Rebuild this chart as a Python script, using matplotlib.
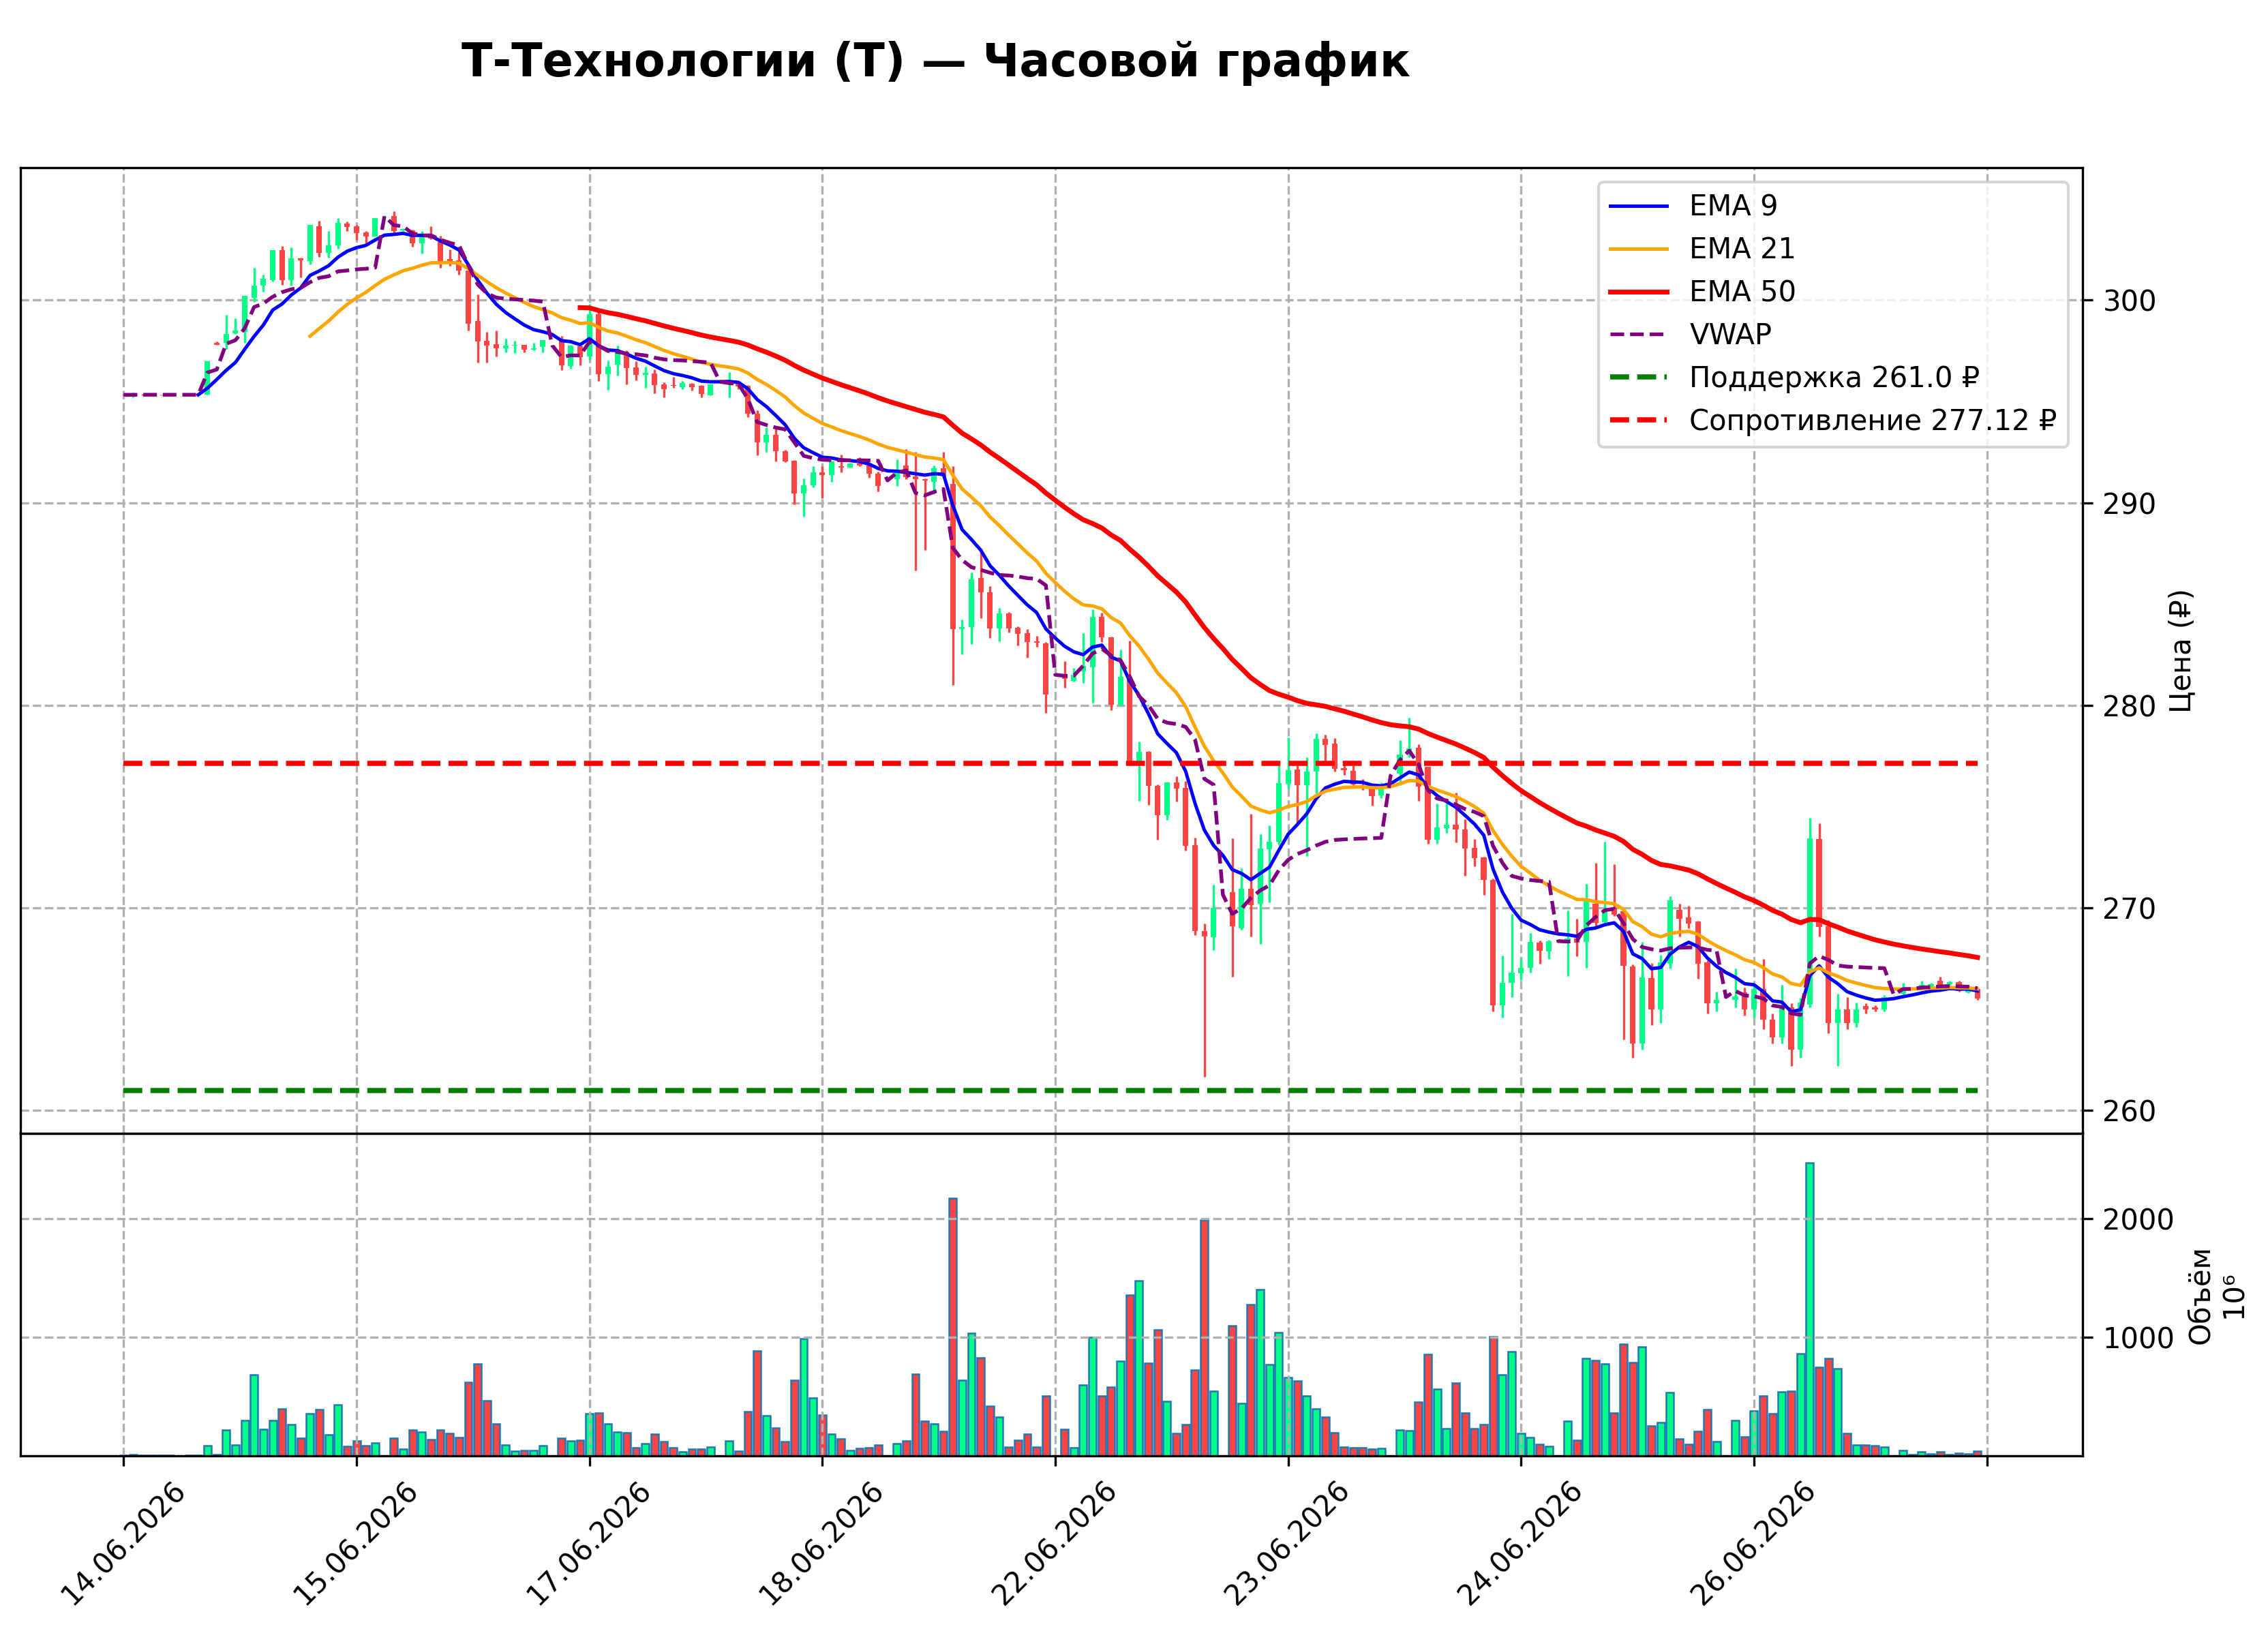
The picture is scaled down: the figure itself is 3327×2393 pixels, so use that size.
import numpy as np
import matplotlib
matplotlib.use("Agg")
import matplotlib.pyplot as plt

# ---------------- data ----------------
dates = ["14.06.2026", "15.06.2026", "17.06.2026", "18.06.2026",
         "22.06.2026", "23.06.2026", "24.06.2026", "26.06.2026"]

opens = [295.34, 295.32, 295.34, 295.33, 295.34, 295.32, 295.33, 295.34, 295.32,
         295.33, 297.90, 297.88, 298.35, 298.44, 300.12, 300.73, 301.00, 302.46, 301.00,
         302.05, 301.94, 303.63, 302.35, 302.72, 303.77, 303.66, 303.34, 303.15,
         304.14, 304.14, 303.43, 303.46, 302.81, 303.20, 302.87, 302.03, 301.97, 301.47,
         298.97, 297.99, 297.81, 297.61, 297.75, 297.80, 297.55, 297.68,
         297.76, 298.00, 296.76, 297.72, 297.23, 299.30, 296.33, 296.82, 297.40, 296.67,
         296.31, 296.39, 295.83, 295.80, 295.69, 295.89, 295.77, 295.30,
         295.97, 295.98, 295.97, 295.77, 294.38, 292.97, 293.34, 292.56, 292.07, 290.46,
         290.85, 291.51, 291.35, 291.80, 291.74, 291.94, 291.83, 291.44,
         291.10, 291.15, 291.83, 291.29, 291.18, 291.04, 291.71, 290.92, 283.75, 283.85,
         286.28, 285.57, 283.81, 284.54, 283.83, 283.55, 283.15, 283.04,
         281.50, 281.46, 281.20, 281.67, 281.89, 284.38, 283.35, 280.02, 281.42, 277.17,
         277.70, 276.01, 274.59, 276.20, 275.94, 273.09, 268.86, 268.54,
         270.65, 270.79, 269.01, 270.94, 270.21, 272.88, 273.26, 276.12, 276.84, 276.06,
         276.72, 278.34, 278.10, 276.90, 276.78, 276.18, 275.90, 275.54,
         276.52, 276.62, 277.58, 277.92, 276.98, 273.38, 273.93, 274.10, 273.86, 272.97,
         272.48, 271.37, 265.20, 266.29, 266.77, 267.04, 268.27, 267.86,
         268.36, 268.40, 268.50, 268.31, 270.21, 269.28, 269.99, 269.82, 267.10, 263.30,
         266.54, 265.00, 267.26, 269.91, 269.54, 269.32, 267.32, 265.30,
         265.60, 265.45, 265.84, 265.00, 266.00, 264.50, 263.60, 265.10, 263.00, 265.24,
         273.39, 269.09, 264.30, 265.00, 264.30, 265.16, 265.10, 265.00,
         265.72, 265.75, 266.00, 266.05, 266.10, 266.40, 266.23, 266.34, 265.84, 266.00]

highs = [295.36, 295.45, 295.36, 295.35, 295.35, 295.34, 295.34, 295.35, 295.34,
         296.98, 297.95, 299.28, 299.11, 300.20, 301.58, 301.27, 302.46, 302.68, 302.59,
         302.09, 303.70, 303.91, 303.40, 304.04, 303.87, 303.73, 303.40, 304.04,
         304.17, 304.38, 303.55, 303.48, 303.40, 303.65, 303.17, 302.50, 302.36, 301.50,
         300.29, 298.42, 298.49, 298.08, 297.99, 297.80, 297.88, 298.02,
         297.79, 298.24, 297.75, 297.75, 299.81, 299.62, 297.02, 297.75, 297.54, 296.98,
         296.73, 296.59, 295.94, 296.20, 296.00, 295.92, 295.80, 295.84,
         296.00, 296.46, 295.97, 295.80, 294.57, 293.73, 293.68, 292.60, 292.10, 291.21,
         291.80, 291.79, 292.05, 292.39, 291.96, 292.24, 291.86, 291.55,
         291.12, 292.14, 292.64, 292.52, 291.20, 291.83, 292.50, 291.79, 284.25, 286.54,
         287.57, 285.89, 284.80, 284.60, 283.90, 283.75, 283.41, 283.11,
         281.53, 282.17, 281.85, 283.56, 284.74, 284.57, 283.39, 282.75, 283.18, 278.20,
         277.75, 276.10, 276.22, 276.48, 276.27, 273.48, 269.23, 271.16,
         270.67, 273.43, 271.97, 274.66, 273.63, 274.06, 277.02, 278.40, 277.02, 277.44,
         278.61, 278.56, 278.38, 277.26, 277.02, 276.36, 276.12, 276.18,
         276.55, 278.28, 279.40, 278.07, 276.98, 275.16, 275.16, 275.70, 274.38, 273.41,
         272.54, 271.45, 267.64, 269.71, 267.52, 268.76, 268.39, 268.42,
         268.38, 269.88, 269.48, 271.19, 272.23, 273.26, 272.17, 269.88, 267.20, 268.33,
         267.28, 267.69, 270.58, 270.21, 270.10, 269.35, 267.40, 265.87,
         265.62, 267.00, 266.06, 266.20, 267.49, 264.80, 266.20, 265.30, 265.56, 274.46,
         274.18, 269.39, 265.76, 265.61, 265.33, 265.30, 265.20, 265.70,
         265.74, 266.30, 266.10, 266.40, 266.30, 266.59, 266.40, 266.40, 266.05, 266.05]

lows = [295.30, 295.20, 295.31, 295.31, 295.31, 295.31, 295.32, 295.31, 295.31,
        295.33, 297.80, 297.58, 298.33, 297.90, 299.90, 300.43, 300.93, 300.77, 300.72,
        301.13, 301.77, 302.12, 302.11, 302.53, 303.41, 302.97, 302.81, 303.13,
        304.12, 303.32, 303.40, 302.65, 302.31, 303.00, 301.60, 301.69, 301.27, 298.50,
        296.93, 296.93, 297.23, 297.43, 297.38, 297.43, 297.54, 297.43,
        297.74, 296.54, 296.63, 296.80, 297.04, 296.00, 295.58, 296.29, 295.83, 296.05,
        295.66, 295.41, 295.21, 295.66, 295.62, 295.53, 295.21, 295.30,
        295.95, 295.19, 295.62, 294.24, 292.33, 292.52, 292.05, 292.00, 289.92, 289.33,
        290.76, 290.21, 291.04, 291.51, 291.72, 291.80, 291.22, 290.56,
        291.08, 290.84, 291.15, 286.65, 287.67, 290.42, 291.27, 281.01, 282.52, 283.03,
        284.31, 283.34, 283.17, 283.61, 282.96, 282.35, 282.88, 279.61,
        281.48, 280.88, 281.16, 281.09, 280.13, 283.13, 279.76, 280.00, 277.12, 275.30,
        275.09, 273.37, 274.33, 275.24, 272.83, 268.65, 261.67, 267.90,
        270.63, 266.61, 268.93, 268.58, 268.22, 270.26, 273.10, 275.88, 274.07, 272.57,
        275.64, 277.20, 276.72, 276.57, 276.06, 275.82, 275.04, 275.42,
        276.50, 276.06, 277.44, 275.28, 273.17, 273.17, 273.71, 273.23, 271.57, 272.07,
        270.65, 264.90, 264.60, 265.60, 266.44, 266.82, 267.26, 267.49,
        268.34, 266.63, 267.60, 267.04, 269.09, 269.26, 269.60, 263.50, 262.60, 263.00,
        264.20, 264.30, 267.00, 268.59, 269.01, 266.51, 264.80, 264.90,
        265.58, 265.10, 264.70, 264.60, 264.00, 263.30, 263.30, 262.20, 262.60, 265.10,
        268.59, 263.80, 262.20, 264.00, 264.10, 264.80, 264.90, 264.90,
        265.70, 265.70, 265.95, 265.95, 266.05, 266.00, 266.20, 265.85, 265.80, 265.45]

closes = [295.32, 295.34, 295.33, 295.33, 295.32, 295.33, 295.33, 295.32, 295.33,
          296.98, 297.80, 298.33, 298.49, 300.20, 300.73, 301.04, 302.46, 301.00, 302.05,
          301.96, 303.70, 302.35, 302.72, 303.80, 303.60, 303.30, 303.15, 304.04,
          304.15, 303.40, 303.51, 302.79, 303.21, 303.04, 301.94, 301.94, 301.47, 298.83,
          297.96, 297.75, 297.63, 297.77, 297.80, 297.57, 297.64, 298.02,
          297.77, 296.78, 297.75, 297.20, 299.30, 296.33, 296.70, 297.40, 296.65, 296.31,
          296.42, 295.81, 295.61, 295.76, 295.92, 295.70, 295.36, 295.84,
          295.98, 296.05, 295.75, 294.38, 292.97, 293.34, 292.56, 292.03, 290.46, 290.87,
          291.51, 291.35, 292.05, 291.74, 291.94, 291.83, 291.43, 290.82,
          291.10, 291.49, 291.27, 291.15, 291.10, 291.71, 291.29, 283.75, 283.88, 286.23,
          285.57, 283.81, 284.54, 283.78, 283.53, 283.11, 283.08, 280.52,
          281.52, 281.31, 281.52, 281.95, 284.38, 283.35, 280.02, 281.42, 277.17, 277.70,
          276.01, 274.59, 276.20, 275.88, 273.05, 268.86, 268.58, 270.00,
          270.65, 269.08, 270.94, 270.15, 272.94, 273.26, 276.16, 276.81, 276.06, 276.74,
          278.34, 278.06, 276.86, 276.81, 276.09, 276.12, 275.52, 275.88,
          276.54, 277.58, 277.86, 276.00, 273.38, 273.98, 274.10, 273.86, 272.93, 272.45,
          271.37, 265.20, 266.30, 266.79, 267.04, 268.31, 267.88, 268.34,
          268.36, 268.50, 268.30, 270.33, 269.26, 269.82, 269.65, 267.13, 263.30, 266.57,
          265.00, 267.30, 270.36, 269.48, 269.23, 267.24, 265.30, 265.45,
          265.60, 265.62, 265.00, 266.00, 264.50, 263.60, 265.10, 263.00, 265.33, 273.43,
          269.06, 264.30, 265.00, 264.30, 265.00, 265.00, 265.00, 265.59,
          265.72, 266.00, 266.05, 266.20, 266.25, 266.12, 266.34, 265.89, 266.00, 265.53]

# volume, millions
volumes = [5, 10, 8, 8, 8, 6, 2, 4, 8,
           86, 10, 221, 90, 297, 681, 224, 301, 399, 265, 148, 355, 388, 178, 428, 83, 129, 86, 111,
           1, 148, 58, 221, 201, 140, 221, 192, 153, 618, 777, 466, 272, 92, 42, 48, 48, 86,
           1, 148, 129, 134, 355, 361, 269, 201, 196, 67, 102, 182, 121, 67, 33, 58, 58, 77,
           1, 125, 38, 374, 883, 336, 236, 121, 637, 988, 489, 345, 182, 144, 44, 63, 67, 90,
           1, 102, 129, 691, 294, 269, 205, 2168, 639, 1036, 829, 418, 330, 73, 130, 182, 77, 508,
           1, 224, 71, 595, 1002, 508, 581, 800, 1353, 1477, 781, 1065, 460, 188, 263, 725, 1986, 547,
           1, 1099, 445, 1276, 1401, 767, 1042, 662, 633, 503, 397, 330, 196, 77, 67, 67, 58, 63,
           1, 217, 211, 455, 858, 562, 230, 614, 361, 230, 263, 1007, 681, 877, 188, 153, 96, 83,
           1, 294, 130, 819, 806, 777, 361, 940, 787, 921, 253, 282, 533, 144, 96, 205, 390, 121,
           1, 297, 159, 378, 505, 355, 537, 547, 863, 2469, 748, 821, 735, 192, 90, 90, 86, 77,
           1, 44, 10, 33, 19, 33, 10, 23, 19, 42]

day_starts = [0, 9, 28, 46, 64, 82, 100, 118, 136, 154, 172, 190]
support = 261.0
resistance = 277.12

# ---------------- indicators ----------------
o = np.array(opens); h = np.array(highs); l = np.array(lows); c = np.array(closes)
v = np.array(volumes, dtype=float)
n = len(c)
x = np.arange(n)


def ema(values, period):
    out = np.full(len(values), np.nan)
    a = 2.0 / (period + 1)
    out[period - 1] = values[:period].mean()
    for i in range(period, len(values)):
        out[i] = a * values[i] + (1 - a) * out[i - 1]
    return out


ema9 = ema(c, 9)
ema21 = ema(c, 21)
ema50 = ema(c, 50)

tp = (h + l + c) / 3.0
vwap = np.empty(n)
bounds = day_starts + [n]
for s, e in zip(bounds[:-1], bounds[1:]):
    vwap[s:e] = np.cumsum(tp[s:e] * v[s:e]) / np.cumsum(v[s:e])

# ---------------- figure ----------------
UP = "#00ff88"
DOWN = "#ff4444"
colors = [UP if cc >= oo else DOWN for oo, cc in zip(o, c)]

fig = plt.figure(figsize=(3327 / 300, 2393 / 300), dpi=300)
ax = fig.add_axes([0.00893, 0.3051, 0.9094, 0.5921])
axv = fig.add_axes([0.00893, 0.1074, 0.9094, 0.1977], sharex=ax)

ax.vlines(x, l, h, colors=colors, linewidth=0.8, zorder=2)
ax.bar(x, np.abs(c - o), bottom=np.minimum(o, c), width=0.6, color=colors, zorder=3)

ax.plot(x, ema9, color="blue", linewidth=1.2, label="EMA 9", zorder=4)
ax.plot(x, ema21, color="orange", linewidth=1.2, label="EMA 21", zorder=4)
ax.plot(x, ema50, color="red", linewidth=1.7, label="EMA 50", zorder=4)
ax.plot(x, vwap, color="purple", linewidth=1.3, linestyle="--", label="VWAP", zorder=4)
ax.hlines(support, x[0], x[-1], colors="green", linewidth=1.8, linestyles="--",
          label=f"Поддержка {support} ₽", zorder=4)
ax.hlines(resistance, x[0], x[-1], colors="red", linewidth=1.8, linestyles="--",
          label=f"Сопротивление {resistance} ₽", zorder=4)

ax.set_ylim(258.87, 306.54)
ax.set_xlim(-11.1, 210.3)
ax.yaxis.tick_right()
ax.yaxis.set_label_position("right")
ax.set_ylabel("Цена (₽)", fontsize=10)
ax.grid(True, linestyle="--", color="#b0b0b0", linewidth=0.8)
ax.legend(loc="upper right", fontsize=10)
ax.tick_params(axis="x", labelbottom=False)

axv.bar(x, v, width=0.8, color=colors, edgecolor="#1f77b4", linewidth=0.6)
axv.set_ylim(0, 2717)
axv.set_yticks([1000, 2000])
axv.yaxis.tick_right()
axv.yaxis.set_label_position("right")
axv.set_ylabel("Объём\n10⁶", fontsize=10)
axv.grid(True, linestyle="--", color="#b0b0b0", linewidth=0.8)

ticks = list(range(0, 201, 25))
axv.set_xticks(ticks)
axv.set_xticklabels(dates + [""], rotation=45)

fig.suptitle("Т-Технологии (T) — Часовой график", fontsize=16, fontweight="bold",
             x=0.4126, y=0.975)

fig.savefig("out.png", dpi=300)
